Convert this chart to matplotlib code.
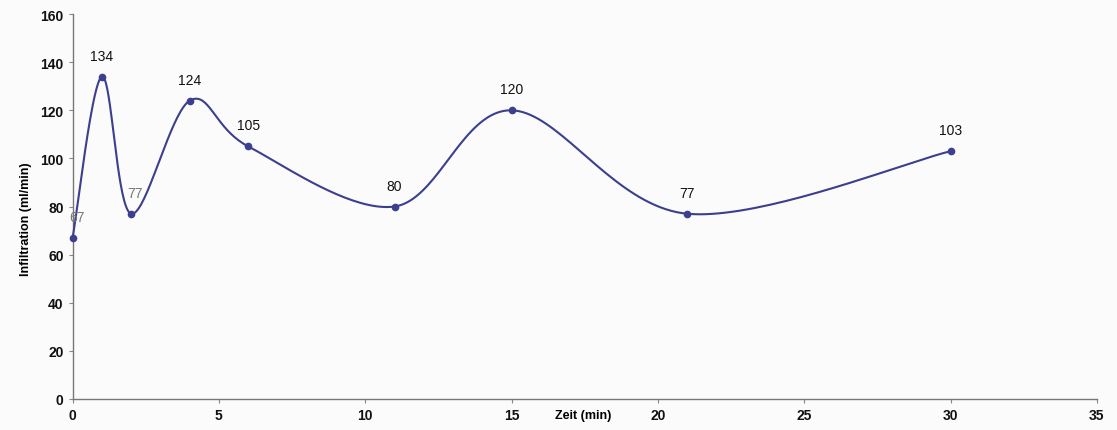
import numpy as np
import matplotlib.pyplot as plt
import matplotlib.transforms as mtransforms

zeit = [0, 1, 2, 4, 6, 11, 15, 21, 30]
infiltration = [67, 134, 77, 124, 105, 80, 120, 77, 103]
label_grey = [True, False, True, False, False, False, False, False, False]


def smooth_curve(x, y, steps=40):
    # excel-like smoothed line: cubic bezier, catmull-rom control points
    x = np.asarray(x, float)
    y = np.asarray(y, float)
    px = np.concatenate(([x[0]], x, [x[-1]]))
    py = np.concatenate(([y[0]], y, [y[-1]]))
    xs, ys = [], []
    t = np.linspace(0, 1, steps)
    for i in range(1, len(px) - 2):
        p0 = np.array([px[i], py[i]])
        p3 = np.array([px[i + 1], py[i + 1]])
        c1 = p0 + (np.array([px[i + 1], py[i + 1]]) - np.array([px[i - 1], py[i - 1]])) / 6
        c2 = p3 - (np.array([px[i + 2], py[i + 2]]) - np.array([px[i], py[i]])) / 6
        b = ((1 - t) ** 3)[:, None] * p0 + (3 * (1 - t) ** 2 * t)[:, None] * c1 \
            + (3 * (1 - t) * t ** 2)[:, None] * c2 + (t ** 3)[:, None] * p3
        xs.extend(b[:, 0])
        ys.extend(b[:, 1])
    return xs, ys


plt.rcParams['font.family'] = ['Liberation Sans', 'DejaVu Sans']

fig = plt.figure(figsize=(11.17, 4.31), dpi=100, facecolor='#fbfbfb')
ax = fig.add_axes([0.065, 0.072, 0.917, 0.893])
ax.set_facecolor('#fbfbfb')

line_color = '#3c3f8e'
sx, sy = smooth_curve(zeit, infiltration)
ax.plot(sx, sy, color=line_color, lw=1.5, clip_on=False, zorder=3)
ax.plot(zeit, infiltration, 'o', color=line_color, ms=4.5, clip_on=False, zorder=4)

for x, y, grey in zip(zeit, infiltration, label_grey):
    dx = 3 if grey else 0
    ax.annotate(str(y), (x, y), xytext=(dx, 10), textcoords='offset points',
                ha='center', va='bottom', fontsize=10,
                color='#777777' if grey else '#111111')

ax.set_xlim(0, 35)
ax.set_ylim(0, 160)
ax.set_xticks(range(0, 36, 5))
ax.set_yticks(range(0, 161, 20))

for side in ('top', 'right'):
    ax.spines[side].set_visible(False)
for side in ('left', 'bottom'):
    ax.spines[side].set_color('#777777')
    ax.spines[side].set_linewidth(1.0)

ax.tick_params(axis='both', length=3, width=0.8, color='#888888',
               labelsize=10, labelcolor='#111111')
for lbl in ax.get_xticklabels() + ax.get_yticklabels():
    lbl.set_fontweight('bold')

ax.set_ylabel('Infiltration (ml/min)', fontsize=9, fontweight='bold')
ax.yaxis.set_label_coords(-0.040, 0.47)

# x label sits in the tick label row, between 15 and 20
trans = mtransforms.blended_transform_factory(ax.transData, ax.transAxes) + \
    mtransforms.ScaledTranslation(0, -7 / 72, fig.dpi_scale_trans)
ax.text(16.5, 0, 'Zeit (min)', fontsize=9, fontweight='bold',
        ha='left', va='top', transform=trans, clip_on=False)

fig.savefig('out.png', dpi=100, facecolor=fig.get_facecolor())
